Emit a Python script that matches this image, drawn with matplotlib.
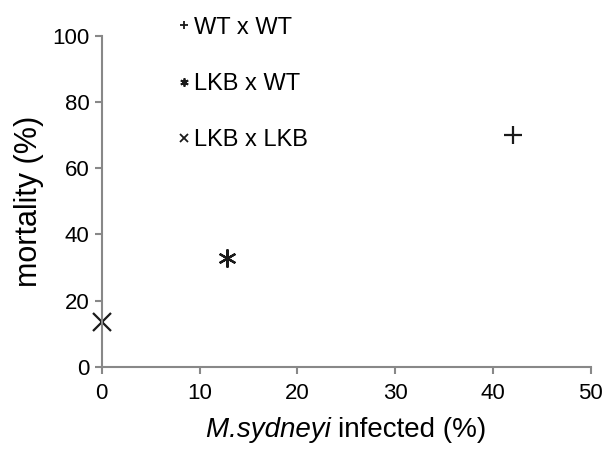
import matplotlib.pyplot as plt
from matplotlib.lines import Line2D

plt.rcParams['font.family'] = ['Liberation Sans', 'DejaVu Sans']

# data
labels = ['WT x WT', 'LKB x WT', 'LKB x LKB']
infected = [42, 12.8, 0]
mortality = [70, 33, 13.5]
markers = ['+', (6, 2, 0), 'x']

fig = plt.figure(figsize=(6.06, 4.54), dpi=100)
ax = fig.add_axes([0.168, 0.192, 0.807, 0.729])

for x, y, m, lab in zip(infected, mortality, markers, labels):
    ax.plot([x], [y], linestyle='none', marker=m, markersize=13,
            markeredgewidth=1.6, color='#1a1a1a', label=lab, clip_on=False)

ax.set_xlim(0, 50)
ax.set_ylim(0, 100)
ax.set_xticks([0, 10, 20, 30, 40, 50])
ax.set_yticks([0, 20, 40, 60, 80, 100])

for side in ['top', 'right']:
    ax.spines[side].set_visible(False)
for side in ['left', 'bottom']:
    ax.spines[side].set_color('#888888')
    ax.spines[side].set_linewidth(1.5)
ax.tick_params(colors='#888888', labelcolor='black', labelsize=16,
               length=5, width=1.5, direction='out')
ax.tick_params(axis='x', pad=7)
ax.tick_params(axis='y', pad=4)

ax.set_ylabel('mortality (%)', fontsize=22, labelpad=6)

# x label: italic species name followed by upright text
renderer = fig.canvas.get_renderer()
t1 = fig.text(0, 0.038, 'M.sydneyi ', fontsize=20, style='italic', va='baseline')
t2 = fig.text(0, 0.038, 'infected (%)', fontsize=20, va='baseline')
w1 = t1.get_window_extent(renderer).width
w2 = t2.get_window_extent(renderer).width
fig_w = fig.get_figwidth() * fig.dpi
cx = 0.5715 * fig_w
t1.set_x((cx - (w1 + w2) / 2) / fig_w)
t2.set_x((cx - (w1 + w2) / 2 + w1) / fig_w)

handles = [Line2D([], [], linestyle='none', marker=m, markersize=6,
                  markeredgewidth=1.3, color='#1a1a1a') for m in markers]
fig.legend(handles, labels, loc='upper left', bbox_to_anchor=(0.266, 1.0),
           frameon=False, fontsize=17, handlelength=0.5, handletextpad=0.2,
           labelspacing=1.45, borderaxespad=0.3)

fig.savefig('out.png', dpi=100)
